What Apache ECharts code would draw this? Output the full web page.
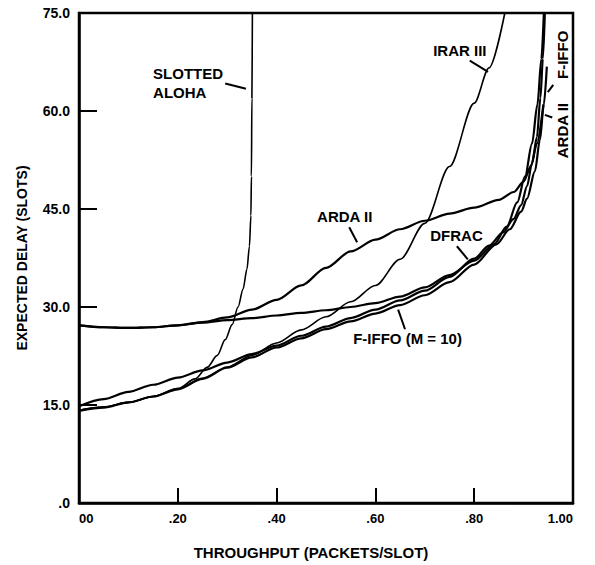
<!DOCTYPE html>
<html>
<head>
<meta charset="utf-8">
<script src="https://cdn.jsdelivr.net/npm/echarts@6/dist/echarts.min.js"></script>
<style>
  html, body { margin: 0; padding: 0; background: #fff; }
  #chart { width: 595px; height: 565px; }
</style>
</head>
<body>
<div id="chart"></div>
<script>
// Axis tick labels
const xTickLabels = ['00', '.20', '.40', '.60', '.80', '1.00'];
const yTickLabels = ['.0', '15.0', '30.0', '45.0', '60.0', '75.0'];

// Expected delay (slots) versus throughput (packets/slot), [throughput, delay]
const slottedAloha = [
  [0, 14.2], [0.05, 14.7], [0.1, 15.4], [0.15, 16.3], [0.2, 17.5], [0.235, 19.0],
  [0.26, 20.8], [0.28, 22.6], [0.296, 25.0], [0.31, 27.3], [0.322, 30.0], [0.332, 32.7],
  [0.34, 35.8], [0.345, 39.3], [0.348, 44.0], [0.349, 50.0], [0.35, 62.0], [0.351, 75.0]
];
const irarIII = [
  [0, 14.2], [0.05, 14.7], [0.1, 15.4], [0.15, 16.3], [0.2, 17.5], [0.25, 19.1],
  [0.3, 20.8], [0.35, 22.6], [0.4, 24.5], [0.45, 26.5], [0.5, 28.5], [0.55, 30.8],
  [0.6, 33.3], [0.65, 37.3], [0.7, 42.8], [0.75, 51.5], [0.8, 61.2], [0.83, 66.6], [0.862, 75.0]
];
const ardaII = [
  [0, 27.2], [0.05, 26.9], [0.1, 26.8], [0.15, 26.9], [0.2, 27.2], [0.25, 27.7],
  [0.3, 28.4], [0.35, 29.6], [0.4, 31.1], [0.45, 33.3], [0.5, 36.0], [0.55, 38.5],
  [0.6, 40.3], [0.65, 41.9], [0.7, 43.2], [0.75, 44.3], [0.8, 45.2], [0.85, 46.4],
  [0.88, 47.6], [0.9, 49.2], [0.915, 51.6], [0.927, 55.0], [0.94, 61.0]
];
const ardaIIFlat = [
  [0, 27.2], [0.05, 26.9], [0.1, 26.8], [0.15, 26.9], [0.2, 27.2], [0.25, 27.6],
  [0.3, 28.0], [0.35, 28.3], [0.4, 28.7], [0.45, 29.1], [0.5, 29.5], [0.55, 30.0],
  [0.6, 30.6], [0.65, 31.6], [0.7, 33.0], [0.75, 34.9], [0.8, 37.1], [0.84, 39.6],
  [0.866, 42.3], [0.887, 46.0], [0.903, 50.0], [0.917, 55.0], [0.928, 61.0], [0.936, 68.0], [0.941, 75.0]
];
const dfrac = [
  [0, 14.8], [0.05, 15.9], [0.1, 17.0], [0.15, 18.1], [0.2, 19.2], [0.25, 20.3],
  [0.3, 21.5], [0.35, 22.8], [0.4, 24.1], [0.45, 25.6], [0.5, 27.0], [0.55, 28.3],
  [0.6, 29.6], [0.65, 31.0], [0.7, 32.5], [0.75, 34.6], [0.8, 37.4], [0.83, 39.4],
  [0.858, 41.4], [0.88, 43.5], [0.895, 45.6], [0.907, 48.5], [0.917, 52.0], [0.927, 56.0],
  [0.934, 62.0], [0.939, 68.0], [0.943, 75.0]
];
const fiffo = [
  [0, 14.1], [0.05, 14.6], [0.1, 15.4], [0.15, 16.3], [0.2, 17.4], [0.25, 19.0],
  [0.3, 20.7], [0.35, 22.3], [0.4, 23.8], [0.45, 25.2], [0.5, 26.6], [0.55, 27.8],
  [0.6, 29.0], [0.65, 30.3], [0.7, 31.8], [0.75, 33.8], [0.8, 36.5], [0.845, 39.6],
  [0.872, 41.9], [0.895, 44.6], [0.907, 46.6], [0.923, 50.8], [0.933, 55.6], [0.941, 61.0], [0.947, 66.8]
];

// Curve labels: text, anchor [throughput, delay], rotated
const labelTexts   = ['SLOTTED', 'ALOHA', 'IRAR III', 'ARDA II', 'DFRAC', 'F-IFFO (M = 10)', 'F-IFFO', 'ARDA II'];
const labelAnchors = [[0.150, 65.8], [0.150, 62.9], [0.717, 69.2], [0.482, 43.8], [0.711, 40.9], [0.555, 25.2], [0.978, 68.6], [0.978, 57.0]];
const labelRotated = [false, false, false, false, false, false, true, true];

// Leader lines from labels to curves
const leaderLines = [
  [[0.296, 64.2], [0.338, 63.4]],
  [[0.791, 67.7], [0.828, 66.0]],
  [[0.547, 42.2], [0.563, 39.9]],
  [[0.765, 39.3], [0.787, 37.3]],
  [[0.660, 26.6], [0.646, 29.6]],
  [[0.960, 64.0], [0.949, 62.9]],
  [[0.958, 59.0], [0.943, 59.4]]
];

const FONT = '"Liberation Sans", Arial, Helvetica, sans-serif';
const chart = echarts.init(document.getElementById('chart'), null, { renderer: 'svg' });

function curve(name, data, width) {
  return {
    type: 'line', name: name, data: data,
    showSymbol: false, smooth: 0.3, smoothMonotone: 'x',
    lineStyle: { color: '#000', width: width },
    silent: true, clip: true
  };
}

chart.setOption({
  animation: false,
  grid: {
    left: 79, right: 22, top: 13, bottom: 61,
    show: true, borderColor: '#000', borderWidth: 2.5, backgroundColor: 'transparent'
  },
  xAxis: {
    type: 'value', min: 0, max: 1, interval: 0.2,
    splitLine: { show: false },
    axisLine: { lineStyle: { color: '#000', width: 2.5 } },
    axisTick: { inside: true, length: 15, lineStyle: { color: '#000', width: 2 } },
    axisLabel: {
      margin: 9, color: '#000', fontFamily: FONT, fontSize: 13, fontWeight: 'bold',
      alignMinLabel: 'left', alignMaxLabel: 'right',
      formatter: v => xTickLabels[Math.round(v * 5)]
    },
    name: 'THROUGHPUT (PACKETS/SLOT)', nameLocation: 'middle', nameGap: 42,
    nameTextStyle: { color: '#000', fontFamily: FONT, fontSize: 15, fontWeight: 'bold', padding: [0, 30, 0, 0] }
  },
  yAxis: {
    type: 'value', min: 0, max: 75, interval: 15,
    splitLine: { show: false },
    axisLine: { lineStyle: { color: '#000', width: 2.5 } },
    axisTick: { inside: true, length: 18, lineStyle: { color: '#000', width: 2 } },
    axisLabel: {
      margin: 9, color: '#000', fontFamily: FONT, fontSize: 14, fontWeight: 'bold',
      formatter: v => yTickLabels[Math.round(v / 15)]
    },
    name: 'EXPECTED DELAY (SLOTS)', nameLocation: 'middle', nameGap: 50,
    nameTextStyle: { color: '#000', fontFamily: FONT, fontSize: 14, fontWeight: 'bold' }
  },
  series: [
    curve('Slotted ALOHA', slottedAloha, 1.6),
    curve('IRAR III', irarIII, 1.6),
    curve('ARDA II', ardaII, 2.2),
    curve('ARDA II (flat)', ardaIIFlat, 2.2),
    curve('DFRAC', dfrac, 2.2),
    curve('F-IFFO', fiffo, 2.2)
  ]
});

// Labels and leader lines placed in data coordinates
const toPx = p => chart.convertToPixel({ gridIndex: 0 }, p);
const graphics = [];
labelTexts.forEach((t, i) => {
  const p = toPx(labelAnchors[i]);
  graphics.push({
    type: 'text', x: p[0], y: p[1],
    rotation: labelRotated[i] ? Math.PI / 2 : 0,
    silent: true,
    style: {
      text: t, fill: '#000', fontFamily: FONT, fontSize: 15, fontWeight: 'bold',
      align: labelRotated[i] ? 'center' : 'left', verticalAlign: 'middle'
    }
  });
});
leaderLines.forEach(seg => {
  const a = toPx(seg[0]), b = toPx(seg[1]);
  graphics.push({
    type: 'line', silent: true,
    shape: { x1: a[0], y1: a[1], x2: b[0], y2: b[1] },
    style: { stroke: '#000', lineWidth: 2 }
  });
});
chart.setOption({ graphic: graphics });
</script>
</body>
</html>
